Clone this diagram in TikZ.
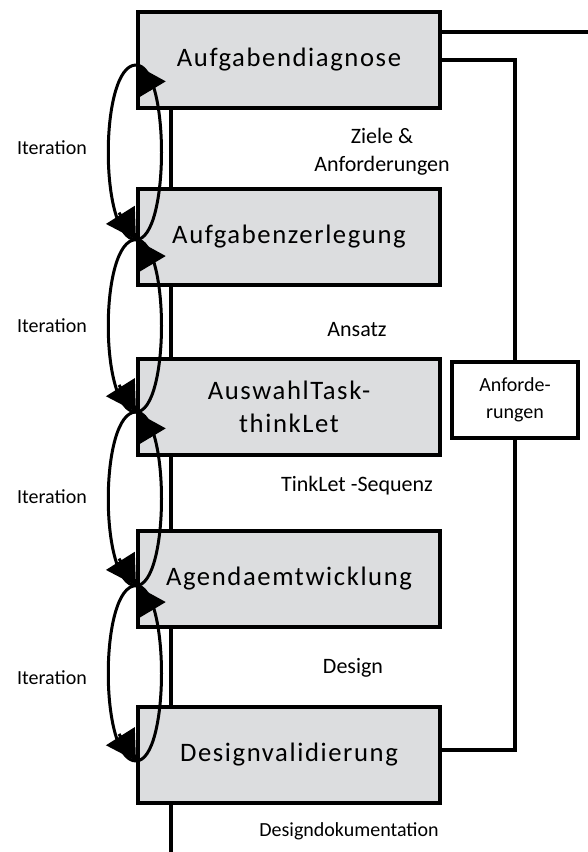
\documentclass[tikz,border=0pt]{standalone}
\usepackage{fontspec}
\setmainfont{Carlito}
\newfontfamily\stagefont{Carlito}[LetterSpace=6]
\usetikzlibrary{arrows.meta}
\definecolor{stagegray}{RGB}{220,221,223}

\begin{document}
\begin{tikzpicture}[x=0.75pt,y=-0.75pt,
  stage/.style={draw, line width=3pt, fill=stagegray, minimum width=226.5pt,
    minimum height=72pt, inner sep=0pt, align=center,
    font=\stagefont\fontsize{20pt}{25pt}\selectfont},
  reqbox/.style={draw, line width=3pt, fill=white, minimum width=94.5pt,
    minimum height=57pt, inner sep=0pt, align=center,
    font=\fontsize{15pt}{20pt}\selectfont},
  wire/.style={line width=3pt},
  loopline/.style={line width=2.25pt},
  looptip/.style={line width=2.25pt, -{Triangle[length=22pt,width=25pt]}},
  flowlabel/.style={align=center, inner sep=0pt, font=\fontsize{16.5pt}{21pt}\selectfont},
  iterlabel/.style={inner sep=0pt, font=\fontsize{15pt}{18pt}\selectfont}]

\fill[white] (0,0) rectangle (588,852);
\useasboundingbox (0,0) rectangle (588,852);

% process stages
\node[stage] (b1) at (289,60)  {Aufgabendiagnose};
\node[stage] (b2) at (289,237) {Aufgabenzerlegung};
\node[stage] (b3) at (289,407) {AuswahlTask-\\thinkLet};
\node[stage] (b4) at (289,579) {Agendaemtwicklung};
\node[stage] (b5) at (289,755) {Designvalidierung};

% requirements side box
\node[reqbox] (anf) at (515,400) {Anforde-\\rungen};

% main flow between stages
\coordinate (spine) at (171,0);
\draw[wire] (b1.south -| spine) -- (b2.north -| spine);
\draw[wire] (b2.south -| spine) -- (b3.north -| spine);
\draw[wire] (b3.south -| spine) -- (b4.north -| spine);
\draw[wire] (b4.south -| spine) -- (b5.north -| spine);
\coordinate (docend) at (171,852);
\draw[wire] (b5.south -| spine) -- (docend);

% outputs on the right
\coordinate (exit) at (588,32);
\draw[wire] (exit -| b1.east) -- (exit);
\coordinate (req) at (515,60);
\draw[wire] (req -| b1.east) -- (req) -- (anf.north);
\coordinate (back) at (515,750);
\draw[wire] (anf.south) -- (back) -- (back -| b5.east);

% iteration loops: elliptic halves, tips added on short end segments
\coordinate (p1) at ([yshift=-3.75pt]b1.west);
\coordinate (p2) at ([yshift=-2pt]b2.west);
\coordinate (p3) at ([yshift=-3.75pt]b3.west);
\coordinate (p4) at ([yshift=-5pt]b4.west);
\coordinate (p5) at ([yshift=-4.5pt]b5.west);
\foreach \a/\b in {p1/p2, p2/p3, p3/p4, p4/p5}{
  \draw[loopline] (\a) .. controls +(-37,0) and +(-37,0) .. (\b);
  \draw[loopline] (\b) .. controls +(34,0) and +(34,0) .. (\a);
  \draw[looptip] ([shift={(-17,-27)}]\b) -- (\b);
  \draw[looptip] ([shift={(15,25)}]\a) -- (\a);
}

% labels
\node[iterlabel] (it1) at (52,148) {Iteration};
\node[iterlabel] (it2) at (52,326) {Iteration};
\node[iterlabel] (it3) at (52,497) {Iteration};
\node[iterlabel] (it4) at (52,678) {Iteration};

\node[flowlabel] (l1) at (382,152) {Ziele \&\\Anforderungen};
\node[flowlabel] (l2) at (357,330) {Ansatz};
\node[flowlabel] (l3) at (357,486) {TinkLet -Sequenz};
\node[flowlabel] (l4) at (353,668) {Design};
\node[flowlabel, font=\fontsize{15pt}{18pt}\selectfont] (l5) at (349,831) {Designdokumentation};
\end{tikzpicture}
\end{document}
